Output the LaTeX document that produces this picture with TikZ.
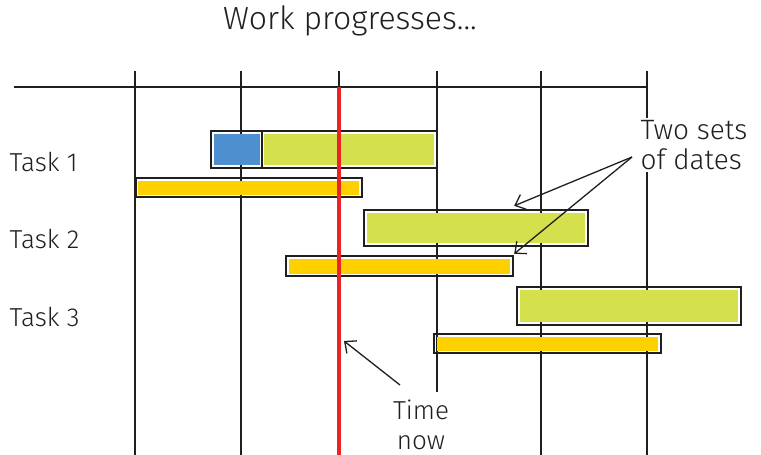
\documentclass[tikz,border=0pt]{standalone}
\usepackage{fontspec}
\setmainfont{Fira Sans Light}
\usetikzlibrary{arrows.meta}
\definecolor{lime}{HTML}{D4E04C}
\definecolor{bblue}{HTML}{4D8FCF}
\definecolor{yel}{HTML}{FFD000}
\definecolor{rred}{HTML}{EC2227}
\tikzset{
  grid/.style={line width=1.4pt, black!88},
  frame/.style={draw=black!88, line width=2.4pt},
  note/.style={line width=1.3pt, black!88, -{Straight Barb[length=9pt,width=16pt,line width=1.3pt]}},
  lbl/.style={font=\fontsize{26}{31}\selectfont, text=black!88},
}
\begin{document}
\begin{tikzpicture}[x=1pt,y=-1pt]
\useasboundingbox (0,0) rectangle (761,455);
% title
\node[lbl, font=\fontsize{32}{36}\selectfont] (title) at (350,21) {Work progresses...};
% axis
\draw[grid] (14,87) -- (647,87);
\foreach \x in {135,241,339,437,541,647}
  \draw[grid] (\x,71) -- (\x,455);
% task labels
\node[lbl, anchor=west] (t1) at (6,162) {Task 1};
\node[lbl, anchor=west] (t2) at (6,239) {Task 2};
\node[lbl, anchor=west] (t3) at (6,317) {Task 3};
% Task 1
\fill[bblue] (214,134) rectangle (260,165);
\fill[lime] (264,134) rectangle (434,165);
\node[frame, minimum width=226pt, minimum height=37pt, inner sep=0pt] (g1) at (324,149.5) {};
\draw[frame] (262,131) -- (262,168);
\fill[yel] (138,180.5) rectangle (359,194.5);
\node[frame, minimum width=226pt, minimum height=19pt, inner sep=0pt] (y1) at (249,187.5) {};
% Task 2
\fill[lime] (367,213) rectangle (585,243);
\node[frame, minimum width=224pt, minimum height=36pt, inner sep=0pt] (g2) at (476,228) {};
\fill[yel] (289,258.5) rectangle (510,273.5);
\node[frame, minimum width=227pt, minimum height=20pt, inner sep=0pt] (y2) at (399.5,266) {};
% Task 3
\fill[lime] (520,290) rectangle (738,322);
\node[frame, minimum width=224pt, minimum height=38pt, inner sep=0pt] (g3) at (629,306) {};
\fill[yel] (437,336.5) rectangle (658,350.5);
\node[frame, minimum width=227pt, minimum height=19pt, inner sep=0pt] (y3) at (547.5,343.5) {};
% time now line
\draw[rred, line width=3.6pt] (339,87) -- (339,455);
% notes
\node[lbl, fill=white, align=left, inner sep=2pt, font=\fontsize{28}{30}\selectfont] (dates) at (694,145) {Two sets\\of dates};
\coordinate (dstart) at (632,157);
\draw[note] (dstart) -- ([xshift=-75pt,yshift=3pt]g2.north east);
\draw[note] (dstart) -- ([yshift=1pt]y2.north east);
\fill[white] (388,392) rectangle (456,455);
\node[lbl, align=center, font=\fontsize{26}{30}\selectfont, anchor=north] (now) at (421,396) {Time\\now};
\coordinate (nstart) at (400,385);
\draw[note] (nstart) -- (344,341);
\end{tikzpicture}
\end{document}
